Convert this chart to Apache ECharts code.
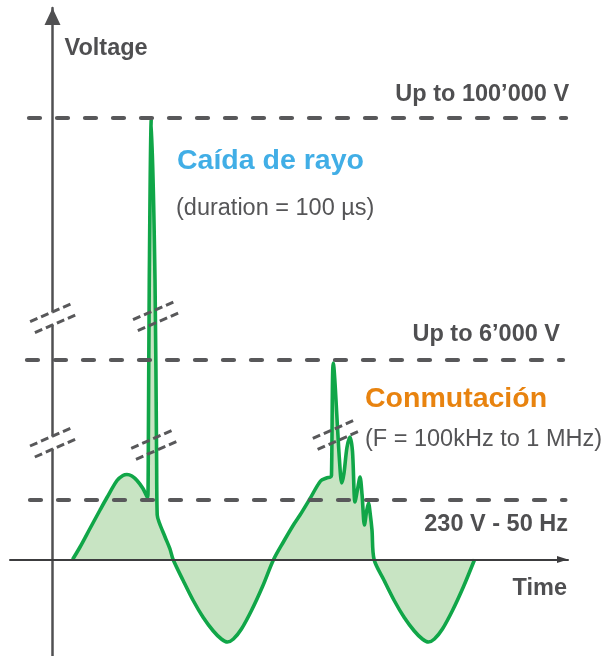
<!DOCTYPE html>
<html><head><meta charset="utf-8">
<script src="https://cdn.jsdelivr.net/npm/echarts@6/dist/echarts.min.js"></script>
<style>html,body{margin:0;padding:0;background:#fff}#c{width:609px;height:656px}</style>
</head><body><div id="c"></div>
<script>
// Time in ms (50 Hz mains), level in schematic units of the broken voltage axis
const waveTime = [2.00, 2.74, 3.73, 4.73, 5.42, 6.42, 7.01, 7.41, 7.90, 8.41, 9.00, 9.40,
  9.48, 9.53, 9.63, 9.84, 10.20, 10.36, 10.42, 10.60, 11.20, 11.69, 12.00,
  13.0, 14.0, 15.0, 16.0, 16.8, 17.4, 18.0, 18.8, 19.8, 20.9, 22.0,
  23.0, 24.0, 24.63, 25.6, 26.67, 27.26, 27.66,
  27.76, 27.94, 28.55, 28.78, 29.0, 29.3, 29.6, 29.85, 30.1, 30.35, 30.6, 30.8, 31.04, 31.25, 31.44, 31.62, 31.79, 32.0,
  33.0, 34.0, 35.0, 36.0, 36.8, 37.4, 38.0, 38.8, 39.8, 40.9, 42.0];
const waveLevel = [0, 12.5, 31, 49.5, 62, 79, 84, 85, 83.5, 79, 71, 63,
  62.5, 99.5, 279.5, 441.5, 279.5, 99.5, 44.5, 37.5, 22.5, 10.5, 0,
  -21, -41, -58, -71.5, -79.5, -82.5, -79.5, -69.5, -51, -27, 0,
  18, 35, 44.5, 60.5, 78.5, 81.5, 82.5,
  84, 196.5, 100, 76.5, 86, 112, 122.5, 108, 57.5, 70, 82.5, 65, 34.5, 48, 56.5, 45, 29.5, 0,
  -21, -41, -58, -71.5, -79.5, -82.5, -79.5, -69.5, -51, -27, 0];

const levelNames = ['230 V - 50 Hz', 'Up to 6’000 V', 'Up to 100’000 V'];
const levelValues = [59.5, 199.5, 441.5];

const axisBreakPoints = [[0.1, 241.5], [0.09, 117.2]];
const waveBreakPoints = [[10.34, 243.5], [10.16, 114.9], [28.23, 124.8]];

const axisNames = ['Time', 'Voltage'];
const noteTitles = ['Caída de rayo', 'Conmutación'];
const noteSubtitles = ['(duration = 100 µs)', '(F = 100kHz to 1 MHz)'];

// ---- layout / style ----
const FONT = '"Liberation Sans", Arial, Helvetica, sans-serif';
const GRAY = '#58585a';
const TEXT = '#4f4f51';
const lineSpan = [[-2.24, 51.04], [-2.54, 50.8], [-2.34, 51.1]];
const labelPlace = [
  {position: 'insideEndBottom', distance: [-2.5, 13]},
  {position: 'insideEndTop', distance: [3, 13]},
  {position: 'insideEndTop', distance: [-3, 11]}
];

function breakRenderer(withMask) {
  return function (params, api) {
    const c = api.coord([api.value(0), api.value(1)]);
    const hx = 21, hy = -9.2, ox = 2.4, oy = 5.5;
    const a = [c[0] - ox, c[1] - oy], b = [c[0] + ox, c[1] + oy];
    const children = [];
    if (withMask) {
      const k = 0.32;
      children.push({type: 'polygon', shape: {points: [
        [a[0] - k * hx, a[1] - k * hy], [a[0] + k * hx, a[1] + k * hy],
        [b[0] + k * hx, b[1] + k * hy], [b[0] - k * hx, b[1] - k * hy]]},
        style: {fill: '#ffffff'}});
    }
    [a, b].forEach(p => children.push({type: 'line',
      shape: {x1: p[0] - hx, y1: p[1] - hy, x2: p[0] + hx, y2: p[1] + hy},
      style: {stroke: GRAY, lineWidth: 3, lineDash: [8, 4]}}));
    return {type: 'group', children};
  };
}

const chart = echarts.init(document.getElementById('c'), null, {renderer: 'canvas'});
chart.setOption({
  animation: false,
  backgroundColor: '#ffffff',
  grid: {left: 10, right: 41, top: 8, bottom: 0, containLabel: false, outerBoundsMode: 'none'},
  xAxis: {
    type: 'value', min: -4.229, max: 51.294, z: 3,
    axisLine: {show: true, onZero: true, symbol: ['none', 'triangle'], symbolSize: [7, 11], symbolOffset: [0, -5.5],
      lineStyle: {color: '#3c3c3e', width: 2}},
    axisTick: {show: false}, axisLabel: {show: false}, splitLine: {show: false},
    name: axisNames[0], nameLocation: 'end', nameGap: 0,
    nameTextStyle: {align: 'right', verticalAlign: 'top', padding: [17.5, 1, 0, 0],
      fontSize: 23.5, fontWeight: 'bold', color: TEXT, fontFamily: FONT}
  },
  yAxis: {
    type: 'value', min: -96.5, max: 551.5, z: 3,
    axisLine: {show: true, onZero: true, symbol: ['none', 'triangle'], symbolSize: [16, 17], symbolOffset: [0, -8.5],
      lineStyle: {color: '#505052', width: 2.5}},
    axisTick: {show: false}, axisLabel: {show: false}, splitLine: {show: false},
    name: axisNames[1], nameLocation: 'end', nameGap: -41,
    nameTextStyle: {align: 'left', verticalAlign: 'middle', padding: [0, 0, 0, 12],
      fontSize: 23.5, fontWeight: 'bold', color: TEXT, fontFamily: FONT}
  },
  series: [
    {
      type: 'line', z: 2, silent: true, showSymbol: false, smooth: 0.3,
      data: waveTime.map((t, i) => [t, waveLevel[i]]),
      lineStyle: {color: '#10a648', width: 3.6},
      areaStyle: {color: '#c8e4c3', opacity: 1}
    },
    {
      type: 'line', z: 5, silent: true, data: [],
      markLine: {
        symbol: 'none', silent: true, animation: false,
        lineStyle: {color: GRAY, width: 4.2, type: [11, 17], cap: 'round'},
        label: {show: true, fontSize: 23.5, fontWeight: 'bold', color: TEXT, fontFamily: FONT},
        data: levelValues.map((v, i) => [
          {coord: [lineSpan[i][0], v], name: levelNames[i],
           label: {show: true, formatter: levelNames[i], position: labelPlace[i].position, distance: labelPlace[i].distance}},
          {coord: [lineSpan[i][1], v]}
        ])
      }
    },
    {
      type: 'custom', coordinateSystem: 'cartesian2d', z: 6, silent: true, clip: false,
      renderItem: breakRenderer(true), data: axisBreakPoints, encode: {x: 0, y: 1}
    },
    {
      type: 'custom', coordinateSystem: 'cartesian2d', z: 6, silent: true, clip: false,
      renderItem: breakRenderer(false), data: waveBreakPoints, encode: {x: 0, y: 1}
    }
  ],
  graphic: [
    {type: 'text', x: 177, y: 161, silent: true, style: {text: noteTitles[0], fill: '#41aee6',
      font: 'bold 28.5px ' + FONT, verticalAlign: 'middle', align: 'left'}},
    {type: 'text', x: 176, y: 209, silent: true, style: {text: noteSubtitles[0], fill: '#555557',
      font: '23.5px ' + FONT, verticalAlign: 'middle', align: 'left'}},
    {type: 'text', x: 365, y: 399, silent: true, style: {text: noteTitles[1], fill: '#e8830f',
      font: 'bold 28.5px ' + FONT, verticalAlign: 'middle', align: 'left'}},
    {type: 'text', x: 365, y: 440, silent: true, style: {text: noteSubtitles[1], fill: '#555557',
      font: '23.5px ' + FONT, verticalAlign: 'middle', align: 'left'}}
  ]
});
</script>
</body></html>
